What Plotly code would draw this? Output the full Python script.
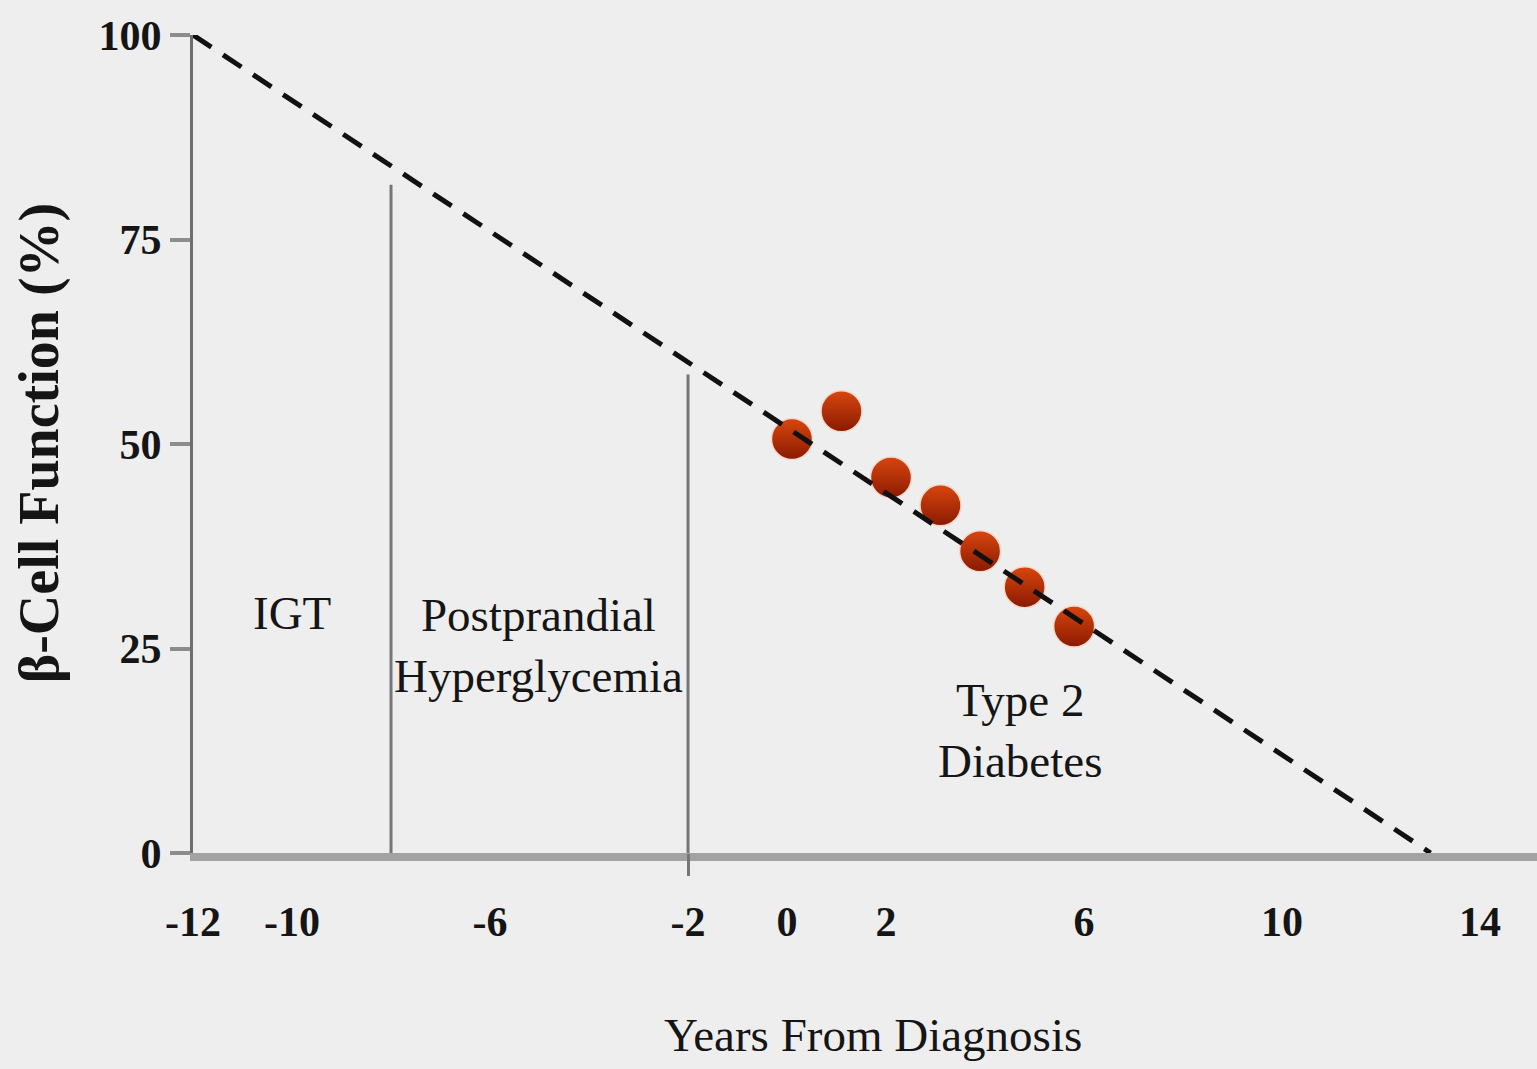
import plotly.graph_objects as go

# ---- data ----
x_tick_vals = [-12, -10, -6, -2, 0, 2, 6, 10, 14]
x_tick_text = ["-12", "-10", "-6", "-2", "0", "2", "6", "10", "14"]
y_tick_vals = [0, 25, 50, 75, 100]

trend_years = [-12, 13]
trend_beta = [100, 0]

ukpds_years = [0.1, 1.1, 2.1, 3.1, 3.9, 4.8, 5.8]
ukpds_beta = [50.6, 54.0, 45.9, 42.5, 36.9, 32.5, 27.7]

boundary_years = [-8, -2]
boundary_tops = [81.7, 58.5]

phase_labels = ["IGT", "Postprandial<br>Hyperglycemia", "Type 2<br>Diabetes"]
phase_x = [-10.0, -5.03, 4.7]
phase_y = [29.3, 25.4, 15.0]

BG = "#eeeeee"
SERIF = "Liberation Serif, Times New Roman, serif"
XR = [-12, 15.15]
YR = [0, 100]

fig = go.Figure()

# phase boundary lines
for bx, bt in zip(boundary_years, boundary_tops):
    fig.add_trace(go.Scatter(x=[bx, bx], y=[0, bt], mode="lines",
                             line=dict(color="#767676", width=3),
                             hoverinfo="skip", showlegend=False))

# dashed beta-cell decline line
fig.add_trace(go.Scatter(x=trend_years, y=trend_beta, mode="lines",
                         line=dict(color="#111111", width=5, dash="22px,14px"),
                         hoverinfo="skip", showlegend=False, xaxis="x2"))

# UKPDS data points
fig.add_trace(go.Scatter(x=ukpds_years, y=ukpds_beta, mode="markers",
                         marker=dict(size=41, color="#d8460f",
                                     gradient=dict(type="vertical", color="#8a1a00"),
                                     line=dict(width=1.5, color="#f4d8cc")),
                         showlegend=False))

for t, px, py in zip(phase_labels, phase_x, phase_y):
    fig.add_annotation(x=px, y=py, text=t, showarrow=False,
                       xanchor="center", yanchor="middle",
                       font=dict(family=SERIF, size=47, color="#151515"))

# axis titles
fig.add_annotation(xref="paper", yref="paper", x=0.506, y=-0.2225,
                   text="Years From Diagnosis", showarrow=False,
                   xanchor="center", yanchor="middle",
                   font=dict(family=SERIF, size=47, color="#151515"))
fig.add_annotation(xref="paper", yref="paper", x=-0.1145, y=0.501,
                   text="β-Cell Function (%)", showarrow=False, textangle=-90,
                   xanchor="center", yanchor="middle",
                   font=dict(family=SERIF, size=56, color="#151515", weight="bold"))

fig.update_layout(
    width=1537, height=1069,
    margin=dict(l=193, r=0, t=35, b=216),
    paper_bgcolor=BG, plot_bgcolor=BG,
    xaxis=dict(range=XR, tickvals=x_tick_vals, ticktext=x_tick_text,
               showgrid=False, zeroline=False, showline=True,
               linecolor="#a2a2a2", linewidth=8, ticks="",
               ticklabelstandoff=25,
               tickfont=dict(family=SERIF, size=42, color="#151515", weight="bold")),
    xaxis2=dict(range=XR, overlaying="x", anchor="y", side="bottom",
                tickvals=[-2], ticks="outside", ticklen=22, tickwidth=3,
                tickcolor="#767676", showticklabels=False, showgrid=False,
                zeroline=False, showline=False),
    yaxis=dict(range=YR, tickvals=y_tick_vals, showgrid=False, zeroline=False,
               showline=True, linecolor="#6e6e6e", linewidth=3,
               ticks="outside", ticklen=20, tickwidth=4, tickcolor="#8c8c8c",
               ticklabelstandoff=0,
               tickfont=dict(family=SERIF, size=42, color="#151515", weight="bold")),
)

fig.write_html("out.html",
               config={"displayModeBar": False},
               post_script="document.body.style.margin='0';"
                           "document.body.style.background='#eeeeee';"
                           "document.body.style.overflow='hidden';")
